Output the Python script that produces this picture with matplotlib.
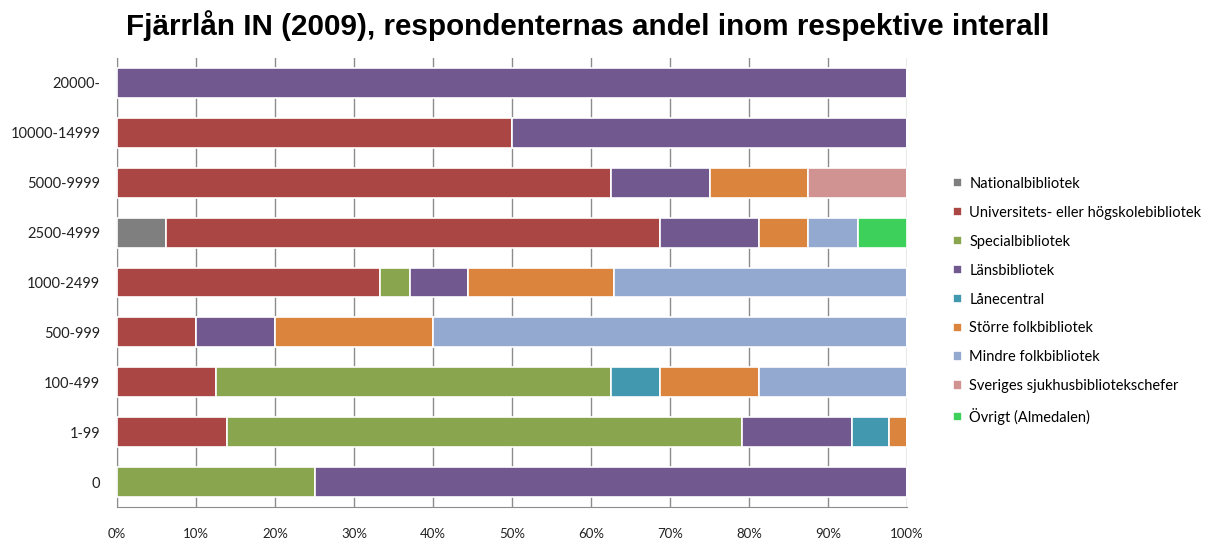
import matplotlib
matplotlib.use("Agg")
import matplotlib.pyplot as plt
import numpy as np

categories = ["0", "1-99", "100-499", "500-999", "1000-2499", "2500-4999",
              "5000-9999", "10000-14999", "20000-"]

series = ["Nationalbibliotek", "Universitets- eller högskolebibliotek",
          "Specialbibliotek", "Länsbibliotek", "Lånecentral",
          "Större folkbibliotek", "Mindre folkbibliotek",
          "Sveriges sjukhusbibliotekschefer", "Övrigt (Almedalen)"]

# shares (%) per category, bottom row first
national = [0, 0, 0, 0, 0, 6.25, 0, 0, 0]
univ = [0, 13.95, 12.5, 10, 33.33, 62.5, 62.5, 50, 0]
special = [25, 65.12, 50, 0, 3.7, 0, 0, 0, 0]
lans = [75, 13.95, 0, 10, 7.41, 12.5, 12.5, 50, 100]
lanecentral = [0, 4.65, 6.25, 0, 0, 0, 0, 0, 0]
storre = [0, 2.33, 12.5, 20, 18.52, 6.25, 12.5, 0, 0]
mindre = [0, 0, 18.75, 60, 37.04, 6.25, 0, 0, 0]
sjukhus = [0, 0, 0, 0, 0, 0, 12.5, 0, 0]
ovrigt = [0, 0, 0, 0, 0, 6.25, 0, 0, 0]

colors = ["#7f7f7f", "#aa4643", "#89a54e", "#71588f", "#4198af",
          "#db843d", "#93a9cf", "#d19392", "#3dd05a"]

data = [national, univ, special, lans, lanecentral, storre, mindre, sjukhus, ovrigt]

fig = plt.figure(figsize=(12.06, 5.41), dpi=100)
ax = fig.add_axes([117 / 1206, 1 - 507 / 541, 790 / 1206, 449 / 541])

y = np.arange(len(categories))
left = np.zeros(len(categories))
for name, vals, c in zip(series, data, colors):
    vals = np.array(vals, dtype=float)
    ax.barh(y, vals, left=left, height=0.6, color=c, edgecolor="white",
            linewidth=1.2, label=name, zorder=3)
    left += vals

ax.set_xlim(0, 100)
ax.set_ylim(-0.5, len(categories) - 0.5)
ax.set_xticks(np.arange(0, 101, 10))
ax.set_xticklabels([f"{v}%" for v in range(0, 101, 10)], fontsize=9.5,
                   family="Lato", color="#222222")
ax.set_yticks(y)
ax.set_yticklabels(categories, fontsize=10.5, family="Lato", color="#222222")
ax.tick_params(axis="y", length=0, pad=12)
ax.tick_params(axis="x", length=0, pad=15)
ax.xaxis.grid(True, color="#8c8c8c", linewidth=1, zorder=0)
for s in ["top", "right"]:
    ax.spines[s].set_visible(False)
ax.spines["left"].set_color("#8c8c8c")
ax.spines["bottom"].set_color("#8c8c8c")

fig.text(0.487, 0.953, "Fjärrlån IN (2009), respondenternas andel inom respektive interall",
         ha="center", va="center", fontsize=21.3, fontweight="bold",
         family="Liberation Sans", color="black")

h, l = ax.get_legend_handles_labels()
fig.legend(h, l, loc="center left", bbox_to_anchor=(940 / 1206, 1 - 301 / 541),
           frameon=False, prop={"family": "Lato", "size": 10.5},
           handlelength=0.6, handleheight=0.6, handletextpad=0.5,
           labelspacing=1.02)

fig.savefig("out.png", dpi=100)
